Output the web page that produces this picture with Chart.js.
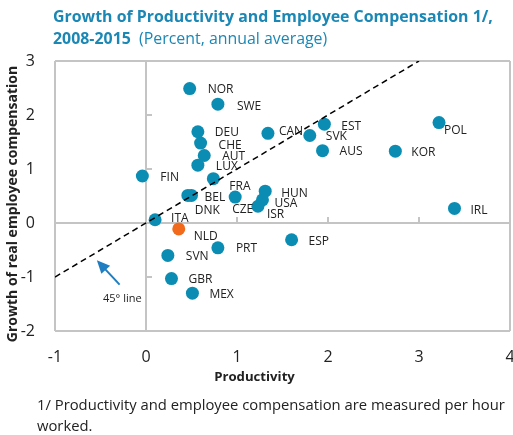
<!DOCTYPE html>
<html>
<head>
<meta charset="utf-8">
<script src="https://cdn.jsdelivr.net/npm/chart.js@4.4.1/dist/chart.umd.min.js"></script>
<style>
  body { margin: 0; background: #fff; font-family: "Open Sans", sans-serif; }
  #wrap { position: relative; width: 513px; height: 435px; overflow: hidden; }
  #chart { position: absolute; left: 0; top: 0; }
  #title { position: absolute; left: 53px; top: 5px; color: #1b87b5; font-size: 15.9px; line-height: 22px; white-space: nowrap; }
  #title b { font-weight: 700; }
  #note { position: absolute; left: 37px; top: 394px; color: #222; font-size: 14.8px; line-height: 21px; white-space: nowrap; }
</style>
</head>
<body>
<div id="wrap">
  <canvas id="chart" width="513" height="435"></canvas>
  <div id="title"><b>Growth of Productivity and Employee Compensation 1/,</b><br><b>2008-2015</b>&nbsp; (Percent, annual average)</div>
  <div id="note">1/ Productivity and employee compensation are measured per hour<br>worked.</div>
</div>
<script>
// data
const countries = ['NOR', 'SWE', 'DEU', 'CHE', 'AUT', 'LUX', 'FIN', 'FRA', 'BEL', 'DNK', 'CZE', 'HUN', 'USA', 'ISR', 'ITA',
  'CAN', 'SVK', 'EST', 'AUS', 'POL', 'KOR', 'IRL', 'NLD', 'PRT', 'ESP', 'SVN', 'GBR', 'MEX'];
const productivity = [0.48, 0.79, 0.57, 0.60, 0.64, 0.57, -0.04, 0.74, 0.50, 0.46, 0.98, 1.31, 1.28, 1.23, 0.10,
  1.34, 1.80, 1.96, 1.94, 3.22, 2.74, 3.39, 0.36, 0.79, 1.60, 0.24, 0.28, 0.51];
const compensation = [2.49, 2.20, 1.69, 1.48, 1.25, 1.07, 0.87, 0.82, 0.51, 0.51, 0.48, 0.59, 0.43, 0.31, 0.06,
  1.66, 1.62, 1.83, 1.34, 1.86, 1.33, 0.27, -0.11, -0.46, -0.31, -0.60, -1.03, -1.30];
const highlight = 'NLD';
const lineX = [-1, 3];
const xTicks = [-1, 0, 1, 2, 3, 4];
const yTicks = [-2, -1, 0, 1, 2, 3];

// where each country name sits relative to its dot (px)
const labelOffset = {
  NOR: [18, 1], SWE: [19, 2], DEU: [17, 1], CHE: [18, 2], AUT: [18, 1], LUX: [18, 1], FIN: [18, 2],
  FRA: [16, 8], BEL: [13, 2], DNK: [7, 15], CZE: [-3, 12], HUN: [16, 2], USA: [12, 4], ISR: [9, 8],
  ITA: [16, -1], CAN: [11, -2], SVK: [16, 1], EST: [17, 2], AUS: [17, 1], POL: [5, 8], KOR: [16, 1],
  IRL: [16, 2], NLD: [15, 8], PRT: [18, 1], ESP: [17, 2], SVN: [18, 1], GBR: [17, 1], MEX: [17, 1]
};

const TEAL = '#0b8db3';
const ORANGE = '#f26a1b';
const FRAME = '#c4c4c4';
const TEXT = '#222';
const FONT = '"Open Sans", sans-serif';

const points = countries.map((c, i) => ({ x: productivity[i], y: compensation[i], label: c }));

// frame + zero axes come from grid lines, only at the ends and at zero
function edgeGrid(min, max) {
  return ctx => {
    const v = ctx.tick && ctx.tick.value;
    return (v === min || v === max || v === 0) ? FRAME : 'rgba(0,0,0,0)';
  };
}

// small tick stubs along the zero axes
const zeroTicks = {
  id: 'zeroTicks',
  beforeDatasetsDraw(chart) {
    const { ctx, scales: { x, y } } = chart;
    const x0 = x.getPixelForValue(0), y0 = y.getPixelForValue(0);
    ctx.save();
    ctx.strokeStyle = FRAME;
    ctx.lineWidth = 2;
    ctx.beginPath();
    yTicks.forEach(v => {
      const py = y.getPixelForValue(v);
      ctx.moveTo(x0, py); ctx.lineTo(x0 + 6, py);
    });
    xTicks.forEach(v => {
      const px = x.getPixelForValue(v);
      ctx.moveTo(px, y0); ctx.lineTo(px, y0 - 6);
    });
    ctx.stroke();
    ctx.restore();
  }
};

// country names, the "45° line" arrow and the axis titles
const annotations = {
  id: 'annotations',
  afterDatasetsDraw(chart) {
    const { ctx, chartArea, scales: { x, y } } = chart;
    const meta = chart.getDatasetMeta(1);
    ctx.save();
    ctx.font = '12px ' + FONT;
    ctx.fillStyle = TEXT;
    ctx.textBaseline = 'middle';
    ctx.textAlign = 'left';
    meta.data.forEach((el, i) => {
      const off = labelOffset[countries[i]] || [16, 1];
      ctx.fillText(countries[i], el.x + off[0], el.y + off[1]);
    });

    // arrow
    const tx = x.getPixelForValue(-0.29), ty = y.getPixelForValue(-1.14);
    const hx = x.getPixelForValue(-0.54), hy = y.getPixelForValue(-0.69);
    const ang = Math.atan2(hy - ty, hx - tx);
    ctx.strokeStyle = '#1f7dc2';
    ctx.fillStyle = '#1f7dc2';
    ctx.lineWidth = 2;
    ctx.beginPath();
    ctx.moveTo(tx, ty);
    ctx.lineTo(hx - 8 * Math.cos(ang), hy - 8 * Math.sin(ang));
    ctx.stroke();
    ctx.beginPath();
    ctx.moveTo(hx, hy);
    ctx.lineTo(hx - 13 * Math.cos(ang) + 6 * Math.sin(ang), hy - 13 * Math.sin(ang) - 6 * Math.cos(ang));
    ctx.lineTo(hx - 13 * Math.cos(ang) - 6 * Math.sin(ang), hy - 13 * Math.sin(ang) + 6 * Math.cos(ang));
    ctx.closePath();
    ctx.fill();

    ctx.fillStyle = TEXT;
    ctx.textAlign = 'center';
    ctx.font = '11px ' + FONT;
    ctx.fillText('45° line', x.getPixelForValue(-0.26), y.getPixelForValue(-1.40));

    // axis titles
    ctx.font = 'bold 13.2px ' + FONT;
    ctx.fillText('Productivity', chartArea.left + 199.5, chartArea.bottom + 46);
    ctx.translate(13, chartArea.top + 143);
    ctx.rotate(-Math.PI / 2);
    ctx.font = 'bold 14px ' + FONT;
    ctx.fillText('Growth of real employee compensation', 0, 0);
    ctx.restore();
  }
};

new Chart(document.getElementById('chart'), {
  type: 'scatter',
  data: {
    datasets: [
      {
        type: 'line',
        label: '45° line',
        data: lineX.map(v => ({ x: v, y: v })),
        borderColor: '#000',
        borderWidth: 1.5,
        borderDash: [6, 4],
        pointRadius: 0,
        fill: false
      },
      {
        label: 'Countries',
        data: points,
        pointRadius: 6.5,
        pointHoverRadius: 6.5,
        borderWidth: 0,
        backgroundColor: points.map(p => p.label === highlight ? ORANGE : TEAL)
      }
    ]
  },
  options: {
    responsive: false,
    animation: false,
    layout: { autoPadding: false, padding: { top: 61, right: 3, bottom: 49, left: 0 } },
    plugins: { legend: { display: false }, tooltip: { enabled: false } },
    scales: {
      x: {
        type: 'linear',
        min: -1, max: 4,
        afterFit: s => { s.height = 55; s.paddingLeft = 0; s.paddingRight = 0; },
        afterBuildTicks: s => { s.ticks = xTicks.map(v => ({ value: v })); },
        border: { display: false },
        grid: { color: edgeGrid(-1, 4), lineWidth: 2, drawTicks: false },
        ticks: { padding: 17, color: TEXT, font: { family: FONT, size: 16 } }
      },
      y: {
        type: 'linear',
        min: -2, max: 3,
        afterFit: s => { s.width = 55; s.paddingTop = 0; s.paddingBottom = 0; },
        afterBuildTicks: s => { s.ticks = yTicks.map(v => ({ value: v })); },
        border: { display: false },
        grid: { color: edgeGrid(-2, 3), lineWidth: 2, drawTicks: false },
        ticks: { padding: 20, color: TEXT, font: { family: FONT, size: 16 } }
      }
    }
  },
  plugins: [zeroTicks, annotations]
});
</script>
</body>
</html>
